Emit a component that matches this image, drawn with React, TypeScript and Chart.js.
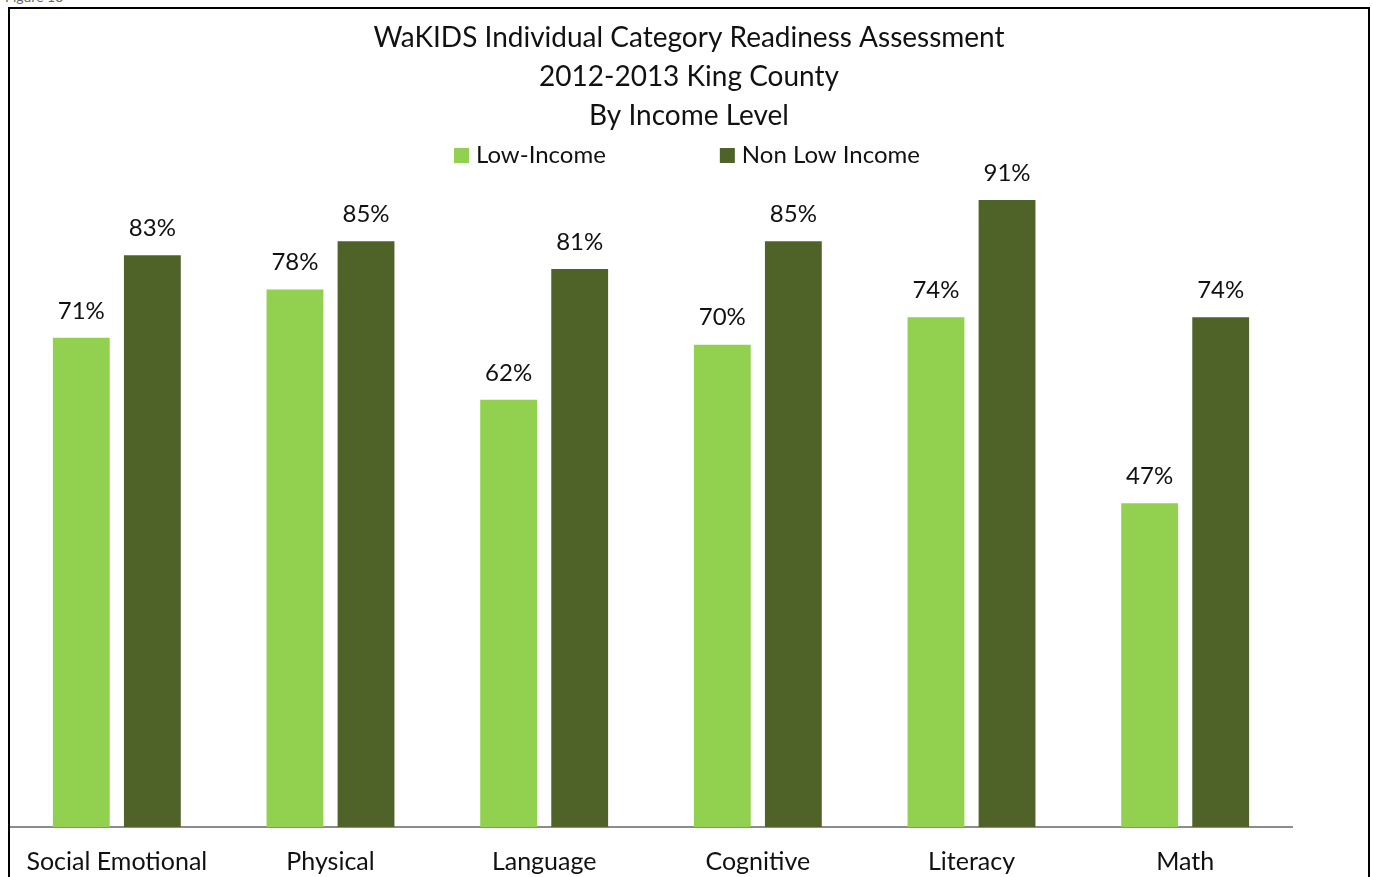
import React, { useEffect, useRef } from "react";
import { Chart, registerables } from "chart.js";

Chart.register(...registerables);

const categories = ["Social Emotional", "Physical", "Language", "Cognitive", "Literacy", "Math"];
const lowIncome = [71, 78, 62, 70, 74, 47];
const nonLowIncome = [83, 85, 81, 85, 91, 74];
const seriesNames = ["Low-Income", "Non Low Income"];
const titleLines = [
  "WaKIDS Individual Category Readiness Assessment",
  "2012-2013 King County",
  "By Income Level",
];

const FONT = "Lato, 'Open Sans', sans-serif";
const LIGHT = "#92D050";
const DARK = "#4F6228";

const labelPlugin = {
  id: "valueLabels",
  afterDatasetsDraw(chart: any) {
    const ctx = chart.ctx;
    ctx.save();
    ctx.font = `24px ${FONT}`;
    ctx.fillStyle = "#111";
    ctx.textAlign = "center";
    ctx.textBaseline = "middle";
    chart.data.datasets.forEach((ds: any, di: number) => {
      const meta = chart.getDatasetMeta(di);
      meta.data.forEach((bar: any, i: number) => {
        ctx.fillText(`${ds.data[i]}%`, bar.x, bar.y - 27);
      });
    });
    ctx.restore();
  },
};

const titleLegendPlugin = {
  id: "titleLegend",
  afterDraw(chart: any) {
    const ctx = chart.ctx;
    ctx.save();
    const cx = chart.width / 2;
    // title
    ctx.font = `28px ${FONT}`;
    ctx.fillStyle = "#111";
    ctx.textAlign = "center";
    ctx.textBaseline = "middle";
    titleLines.forEach((line, i) => {
      ctx.fillText(line, cx, 28 + i * 39);
    });
    // legend
    ctx.font = `24px ${FONT}`;
    ctx.textAlign = "left";
    const box = 15;
    const gapText = 7;
    const gapItems = 114;
    const widths = seriesNames.map((n) => box + gapText + ctx.measureText(n).width);
    const total = widths[0] + gapItems + widths[1];
    let x = cx - total / 2 - 2;
    const yTop = 138;
    const colors = [LIGHT, DARK];
    seriesNames.forEach((n, i) => {
      ctx.fillStyle = colors[i];
      ctx.fillRect(x, yTop, box, box);
      ctx.fillStyle = "#111";
      ctx.fillText(n, x + box + gapText, yTop + box / 2);
      x += widths[i] + gapItems;
    });
    ctx.restore();
  },
};

export default function App() {
  const ref = useRef<HTMLCanvasElement | null>(null);
  useEffect(() => {
    if (!ref.current) return;
    const chart = new Chart(ref.current, {
      type: "bar",
      data: {
        labels: categories,
        datasets: [
          { label: seriesNames[0], data: lowIncome, backgroundColor: LIGHT, categoryPercentage: 0.665, barPercentage: 0.8 },
          { label: seriesNames[1], data: nonLowIncome, backgroundColor: DARK, categoryPercentage: 0.665, barPercentage: 0.8 },
        ],
      },
      options: {
        animation: false,
        responsive: false,
        maintainAspectRatio: false,
        layout: { padding: { left: 0, right: 76, top: 128, bottom: 0 } },
        plugins: {
          legend: { display: false },
          tooltip: { enabled: false },
          title: { display: false },
        },
        scales: {
          x: {
            grid: { display: false, drawTicks: false },
            border: { display: true, color: "#8c8c8c", width: 2 },
            ticks: {
              color: "#111",
              font: { family: FONT, size: 25 },
              padding: 20,
              maxRotation: 0,
              autoSkip: false,
            },
            afterFit(scale: any) {
              scale.paddingLeft = 0;
              scale.paddingRight = 0;
            },
          },
          y: {
            display: false,
            min: 0,
            max: 100,
          },
        },
      },
      plugins: [labelPlugin, titleLegendPlugin],
    });
    return () => chart.destroy();
  }, []);

  return (
    <div style={{ position: "fixed", left: 0, top: 0, width: 1373, height: 877, overflow: "hidden", background: "#fff" }}>
      <div style={{ position: "absolute", left: 5, top: -12, fontFamily: FONT, fontSize: 14, color: "#666" }}>Figure 13</div>
      <div style={{ position: "absolute", left: 8, top: 7, width: 1358, height: 900, border: "2px solid #000", borderBottom: "none" }} />
      <canvas ref={ref} width={1358} height={887} style={{ position: "absolute", left: 10, top: 10, width: 1358, height: 887 }} />
    </div>
  );
}
